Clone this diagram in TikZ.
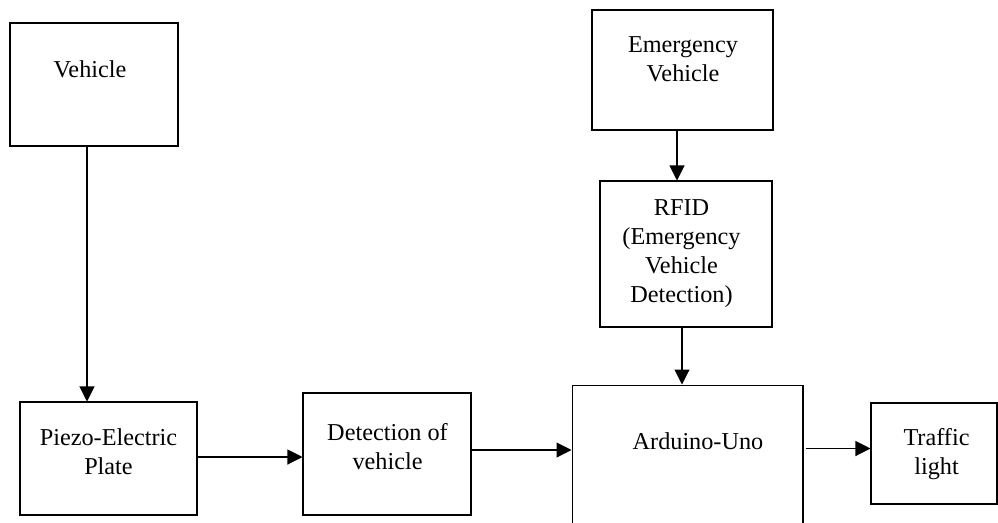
\documentclass[tikz,border=0pt]{standalone}
\usepackage{fontspec}
\setmainfont{Liberation Serif}
\usetikzlibrary{arrows.meta,positioning,calc}

\begin{document}
\begin{tikzpicture}[x=0.02cm,y=-0.02cm,
  blk/.style={draw,line width=0.6pt,inner sep=0pt},
  txt/.style={font=\fontsize{13.8}{16.5}\selectfont,align=center,inner sep=0pt},
  arr/.style={line width=0.6pt,-{Triangle[length=0.3cm,width=0.3cm]}}]
\useasboundingbox (0,0) rectangle (998,522);
\clip (0,0) rectangle (998,522);
% boxes
\node[blk,minimum width=3.36cm,minimum height=2.46cm] (veh) at (94,84.5) {};
\node[txt] (vehT) at (90,69) {Vehicle};
\node[blk,minimum width=3.54cm,minimum height=2.26cm] (piezo) at (108.5,458.5) {};
\node[txt] (piezoT) at (108.5,452) {Piezo-Electric\\Plate};
\node[blk,minimum width=3.36cm,minimum height=2.44cm] (det) at (387,454) {};
\node[txt] (detT) at (387.5,447) {Detection of\\vehicle};
\node[blk,minimum width=4.62cm,minimum height=4cm] (ard) at (687.5,485) {};
\node[txt] (ardT) at (698,441) {Arduino-Uno};
\node[blk,minimum width=2.52cm,minimum height=2.02cm] (tl) at (934,453.5) {};
\node[txt] (tlT) at (936.5,454) {Traffic\\light};
\node[blk,minimum width=3.62cm,minimum height=2.4cm] (emv) at (682.5,70) {};
\node[txt] (emvT) at (683,59) {Emergency\\Vehicle};
\node[blk,minimum width=3.44cm,minimum height=2.92cm] (rfid) at (686,254) {};
\node[txt] (rfidT) at (681.5,254) {RFID\\(Emergency\\Vehicle\\Detection)};
% connectors
\draw[arr] ([xshift=-0.14cm]veh.south) -- ([xshift=-0.14cm]veh.south |- piezo.north);
\draw[arr] ([xshift=-0.11cm]emv.south) -- ([xshift=-0.11cm]emv.south |- rfid.north);
\draw[arr] ([xshift=-0.08cm]rfid.south) -- ([xshift=-0.08cm]rfid.south |- ard.north);
\draw[arr] ([yshift=0.03cm]piezo.east) -- ([yshift=0.03cm]piezo.east -| det.west);
\draw[arr] ([yshift=0.08cm]det.east) -- ([yshift=0.08cm]det.east -| ard.west);
\draw[arr] ([xshift=0.04cm,yshift=0.1cm]ard.east |- tl.west) -- ([yshift=0.1cm]tl.west);
\end{tikzpicture}
\end{document}
